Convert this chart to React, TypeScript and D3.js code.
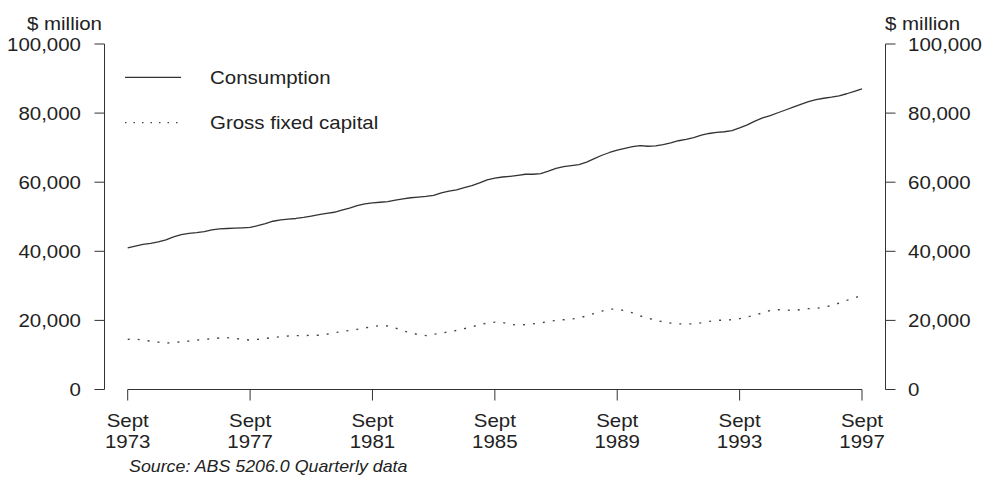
import React from "react";
import * as d3 from "d3";

const consumption: number[] = [
  41000, 41500, 42000, 42300, 42700, 43300, 44200, 44800, 45200, 45400,
  45700, 46200, 46500, 46600, 46700, 46800, 46900, 47400, 48000, 48700,
  49100, 49300, 49500, 49800, 50200, 50600, 51000, 51300, 51900, 52500,
  53200, 53700, 54000, 54200, 54400, 54800, 55200, 55500, 55700, 55900,
  56200, 56900, 57400, 57800, 58400, 59000, 59800, 60700, 61200, 61500,
  61700, 62000, 62300, 62300, 62500, 63200, 64000, 64500, 64800, 65100,
  65800, 66800, 67800, 68600, 69300, 69800, 70300, 70600, 70400, 70500,
  70900, 71400, 72000, 72400, 72900, 73600, 74100, 74400, 74600, 74900,
  75700, 76600, 77700, 78600, 79300, 80100, 80900, 81700, 82500, 83300,
  83900, 84300, 84600, 85000, 85600, 86300, 87000,
];

const grossFixedCapital: number[] = [
  14500, 14600, 14300, 14000, 13700, 13400, 13600, 13800, 14000, 14300,
  14500, 14700, 14900, 15000, 14800, 14500, 14300, 14500, 14800, 15000,
  15300, 15500, 15600, 15600, 15700, 15700, 16000, 16400, 16800, 17100,
  17400, 17800, 18200, 18500, 18400, 17800, 17000, 16400, 15900, 15600,
  16000, 16300, 16700, 17100, 17600, 18100, 18800, 19200, 19500, 19400,
  18900, 18600, 18800, 19000, 19300, 19700, 20000, 20200, 20400, 20700,
  21300, 22000, 22700, 23300, 23200, 22800, 22200, 21300, 20700, 20000,
  19600, 19200, 19000, 19000, 19000, 19300, 19700, 20000, 20100, 20200,
  20500, 21000, 21500, 22200, 22900, 23100, 23000, 22900, 23100, 23400,
  23500, 23800, 24300, 25000, 25800, 26500, 27300,
];

const xTickYears: number[] = [1973, 1977, 1981, 1985, 1989, 1993, 1997];
const xTickMonth = "Sept";
const yTicks: number[] = [0, 20000, 40000, 60000, 80000, 100000];
const seriesNames: string[] = ["Consumption", "Gross fixed capital"];
const unitLabel = "$ million";
const sourceText = "Source: ABS 5206.0 Quarterly data";

const W = 984;
const H = 477;
const FONT = "'Liberation Sans', Arial, Helvetica, sans-serif";
const SX = 1.1;
const TXT = "#222";
const AX = "#333";

function T(props: {
  x: number;
  y: number;
  anchor?: string;
  size?: number;
  italic?: boolean;
  children: React.ReactNode;
}) {
  const { x, y, anchor = "start", size = 18.6, italic = false, children } = props;
  return (
    <text
      transform={`translate(${x},${y}) scale(${SX},1)`}
      textAnchor={anchor}
      fontSize={size}
      fontStyle={italic ? "italic" : "normal"}
      fontFamily={FONT}
      fill={TXT}
    >
      {children}
    </text>
  );
}

export default function App() {
  const x = d3.scaleLinear().domain([0, 96]).range([127.7, 862]);
  const y = d3.scaleLinear().domain([0, 100000]).range([389.5, 44]);
  const fmt = d3.format(",");
  const line = d3
    .line<number>()
    .x((_, i) => x(i))
    .y((d) => y(d));

  const leftX = 104.5;
  const rightX = 885.5;
  const axisBottom = y(0);

  return (
    <svg
      width={W}
      height={H}
      style={{ position: "absolute", left: 0, top: 0, display: "block", background: "#fff" }}
    >
      {/* left axis */}
      <line x1={leftX} x2={leftX} y1={y(100000)} y2={axisBottom} stroke={AX} strokeWidth={1} />
      {yTicks.map((t) => (
        <g key={"l" + t}>
          <line x1={leftX - 10} x2={leftX} y1={y(t)} y2={y(t)} stroke={AX} strokeWidth={1} />
          <T x={81} y={y(t) + 6.5} anchor="end">
            {fmt(t)}
          </T>
        </g>
      ))}
      {/* right axis */}
      <line x1={rightX} x2={rightX} y1={y(100000)} y2={axisBottom} stroke={AX} strokeWidth={1} />
      {yTicks.map((t) => (
        <g key={"r" + t}>
          <line x1={rightX} x2={rightX + 10} y1={y(t)} y2={y(t)} stroke={AX} strokeWidth={1} />
          <T x={908} y={y(t) + 6.5} anchor="start">
            {fmt(t)}
          </T>
        </g>
      ))}
      <T x={102} y={30} anchor="end">
        {unitLabel}
      </T>
      <T x={885} y={30} anchor="start">
        {unitLabel}
      </T>

      {/* x axis */}
      <line x1={x(0)} x2={x(96)} y1={axisBottom} y2={axisBottom} stroke={AX} strokeWidth={1} />
      {xTickYears.map((yr) => {
        const q = (yr - 1973) * 4;
        return (
          <g key={yr}>
            <line x1={x(q)} x2={x(q)} y1={axisBottom} y2={axisBottom + 11} stroke={AX} strokeWidth={1} />
            <T x={x(q)} y={427} anchor="middle">
              {xTickMonth}
            </T>
            <T x={x(q)} y={448} anchor="middle">
              {String(yr)}
            </T>
          </g>
        );
      })}

      {/* series */}
      <path d={line(consumption) || ""} fill="none" stroke="#333" strokeWidth={1.3} strokeLinejoin="round" />
      <path
        d={line(grossFixedCapital) || ""}
        fill="none"
        stroke="#444"
        strokeWidth={1.4}
        strokeDasharray="2,8"
      />

      {/* legend */}
      <line x1={125} x2={181} y1={77.3} y2={77.3} stroke="#333" strokeWidth={1.2} />
      <T x={210} y={83.5}>{seriesNames[0]}</T>
      <line x1={125} x2={178} y1={122.7} y2={122.7} stroke="#444" strokeWidth={1.2} strokeDasharray="1.5,7" />
      <T x={210} y={128.5}>{seriesNames[1]}</T>

      {/* source */}
      <T x={129} y={472} size={16.2} italic>
        {sourceText}
      </T>
    </svg>
  );
}
